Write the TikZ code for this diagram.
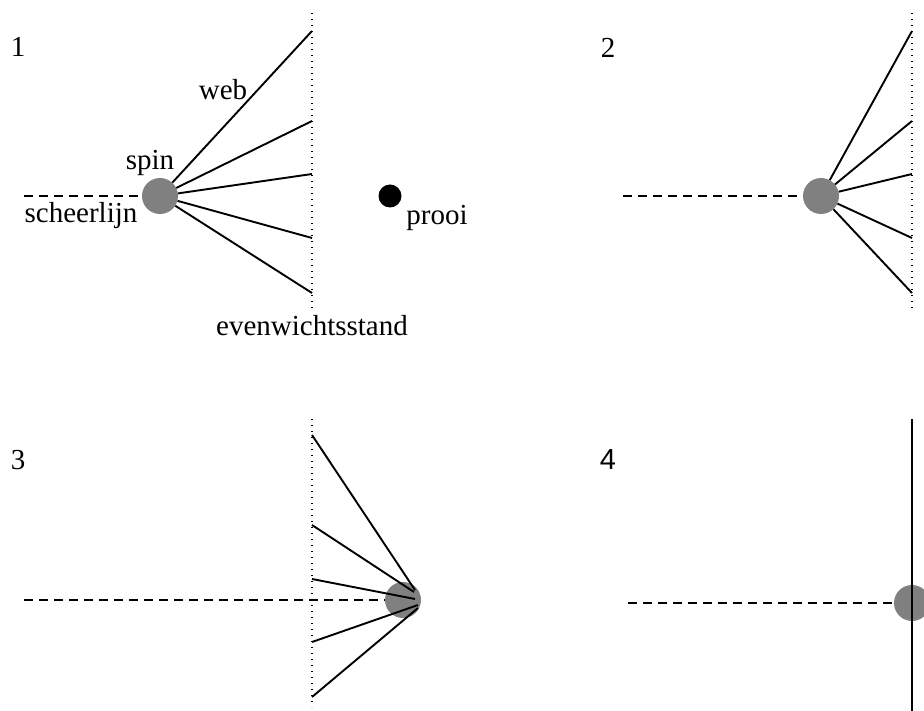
\documentclass[tikz,border=0pt]{standalone}
\usepackage{fontspec}
\setmainfont{Liberation Serif}
\newfontfamily\panelsans{Liberation Sans}
\usetikzlibrary{positioning}

\begin{document}
\begin{tikzpicture}[x=1pt,y=-1pt,
    spider/.style={circle, fill=gray, minimum size=36pt, inner sep=0pt},
    prey/.style={circle, fill=black, minimum size=23pt, inner sep=0pt},
    thread/.style={line width=1.9pt},
    safety/.style={line width=1.8pt, dash pattern=on 9pt off 6pt},
    rest/.style={line width=1.4pt, dash pattern=on 1.4pt off 4.6pt},
    lbl/.style={font=\fontsize{29}{34}\selectfont, inner sep=0pt}]

    \useasboundingbox (0,0) rectangle (924,711);
    \clip (0,0) rectangle (924,711);

    % 1: spin in rust
    \node[lbl] (n1) at (18,47) {1};
    \coordinate (r1t) at (312,13);
    \coordinate (r1b) at (312,310);
    \draw[rest] (r1t) -- (r1b);
    \node[spider] (s1) at (160,196) {};
    \coordinate (t1) at (24,196);
    \draw[safety] (t1) -- (s1);
    \foreach \y [count=\i] in {31,121,174,238,293}
        \coordinate (a1\i) at (312,\y);
    \foreach \i in {1,...,5}
        \draw[thread] (s1) -- (a1\i);
    \node[prey] (p) at (390,196) {};

    \node[lbl] (web) at (223,90) {web};
    \node[lbl] (spin) at (150,163) {spin};
    \node[lbl] (sl) at (81,216) {scheerlijn};
    \node[lbl] (prooi) at (437,218) {prooi};
    \node[lbl] (ev) at (312,326) {evenwichtsstand};

    % 2
    \node[lbl] (n2) at (608,48) {2};
    \coordinate (r2t) at (912,13);
    \coordinate (r2b) at (912,310);
    \draw[rest] (r2t) -- (r2b);
    \node[spider] (s2) at (821,196) {};
    \coordinate (t2) at (623,196);
    \draw[safety] (t2) -- (s2);
    \foreach \y [count=\i] in {31,121,174,238,293}
        \coordinate (a2\i) at (912,\y);
    \foreach \i in {1,...,5}
        \draw[thread] (s2) -- (a2\i);

    % 3
    \node[lbl] (n3) at (18,460) {3};
    \coordinate (r3t) at (312,419);
    \coordinate (r3b) at (312,707);
    \draw[rest] (r3t) -- (r3b);
    \node[spider] (s3) at (403,600) {};
    \coordinate (t3) at (24,600);
    \draw[safety] (t3) -- (s3);
    \foreach \y/\ex/\ey [count=\i] in {435/415/590,525/414/592,579/415/599,642/418/605,697/418/608} {
        \coordinate (a3\i) at (312,\y);
        \coordinate (k3\i) at (\ex,\ey);
        \draw[thread] (a3\i) -- (k3\i);
    }

    % 4
    \node[lbl, font=\panelsans\fontsize{29}{34}\selectfont] (n4) at (608,460) {4};
    \node[spider] (s4) at (912,603) {};
    \coordinate (t4) at (628,603);
    \draw[safety] (t4) -- (s4);
    \coordinate (w4t) at (912,419);
    \coordinate (w4b) at (912,711);
    \draw[line width=2.8pt] (w4t) -- (w4b);

\end{tikzpicture}
\end{document}
